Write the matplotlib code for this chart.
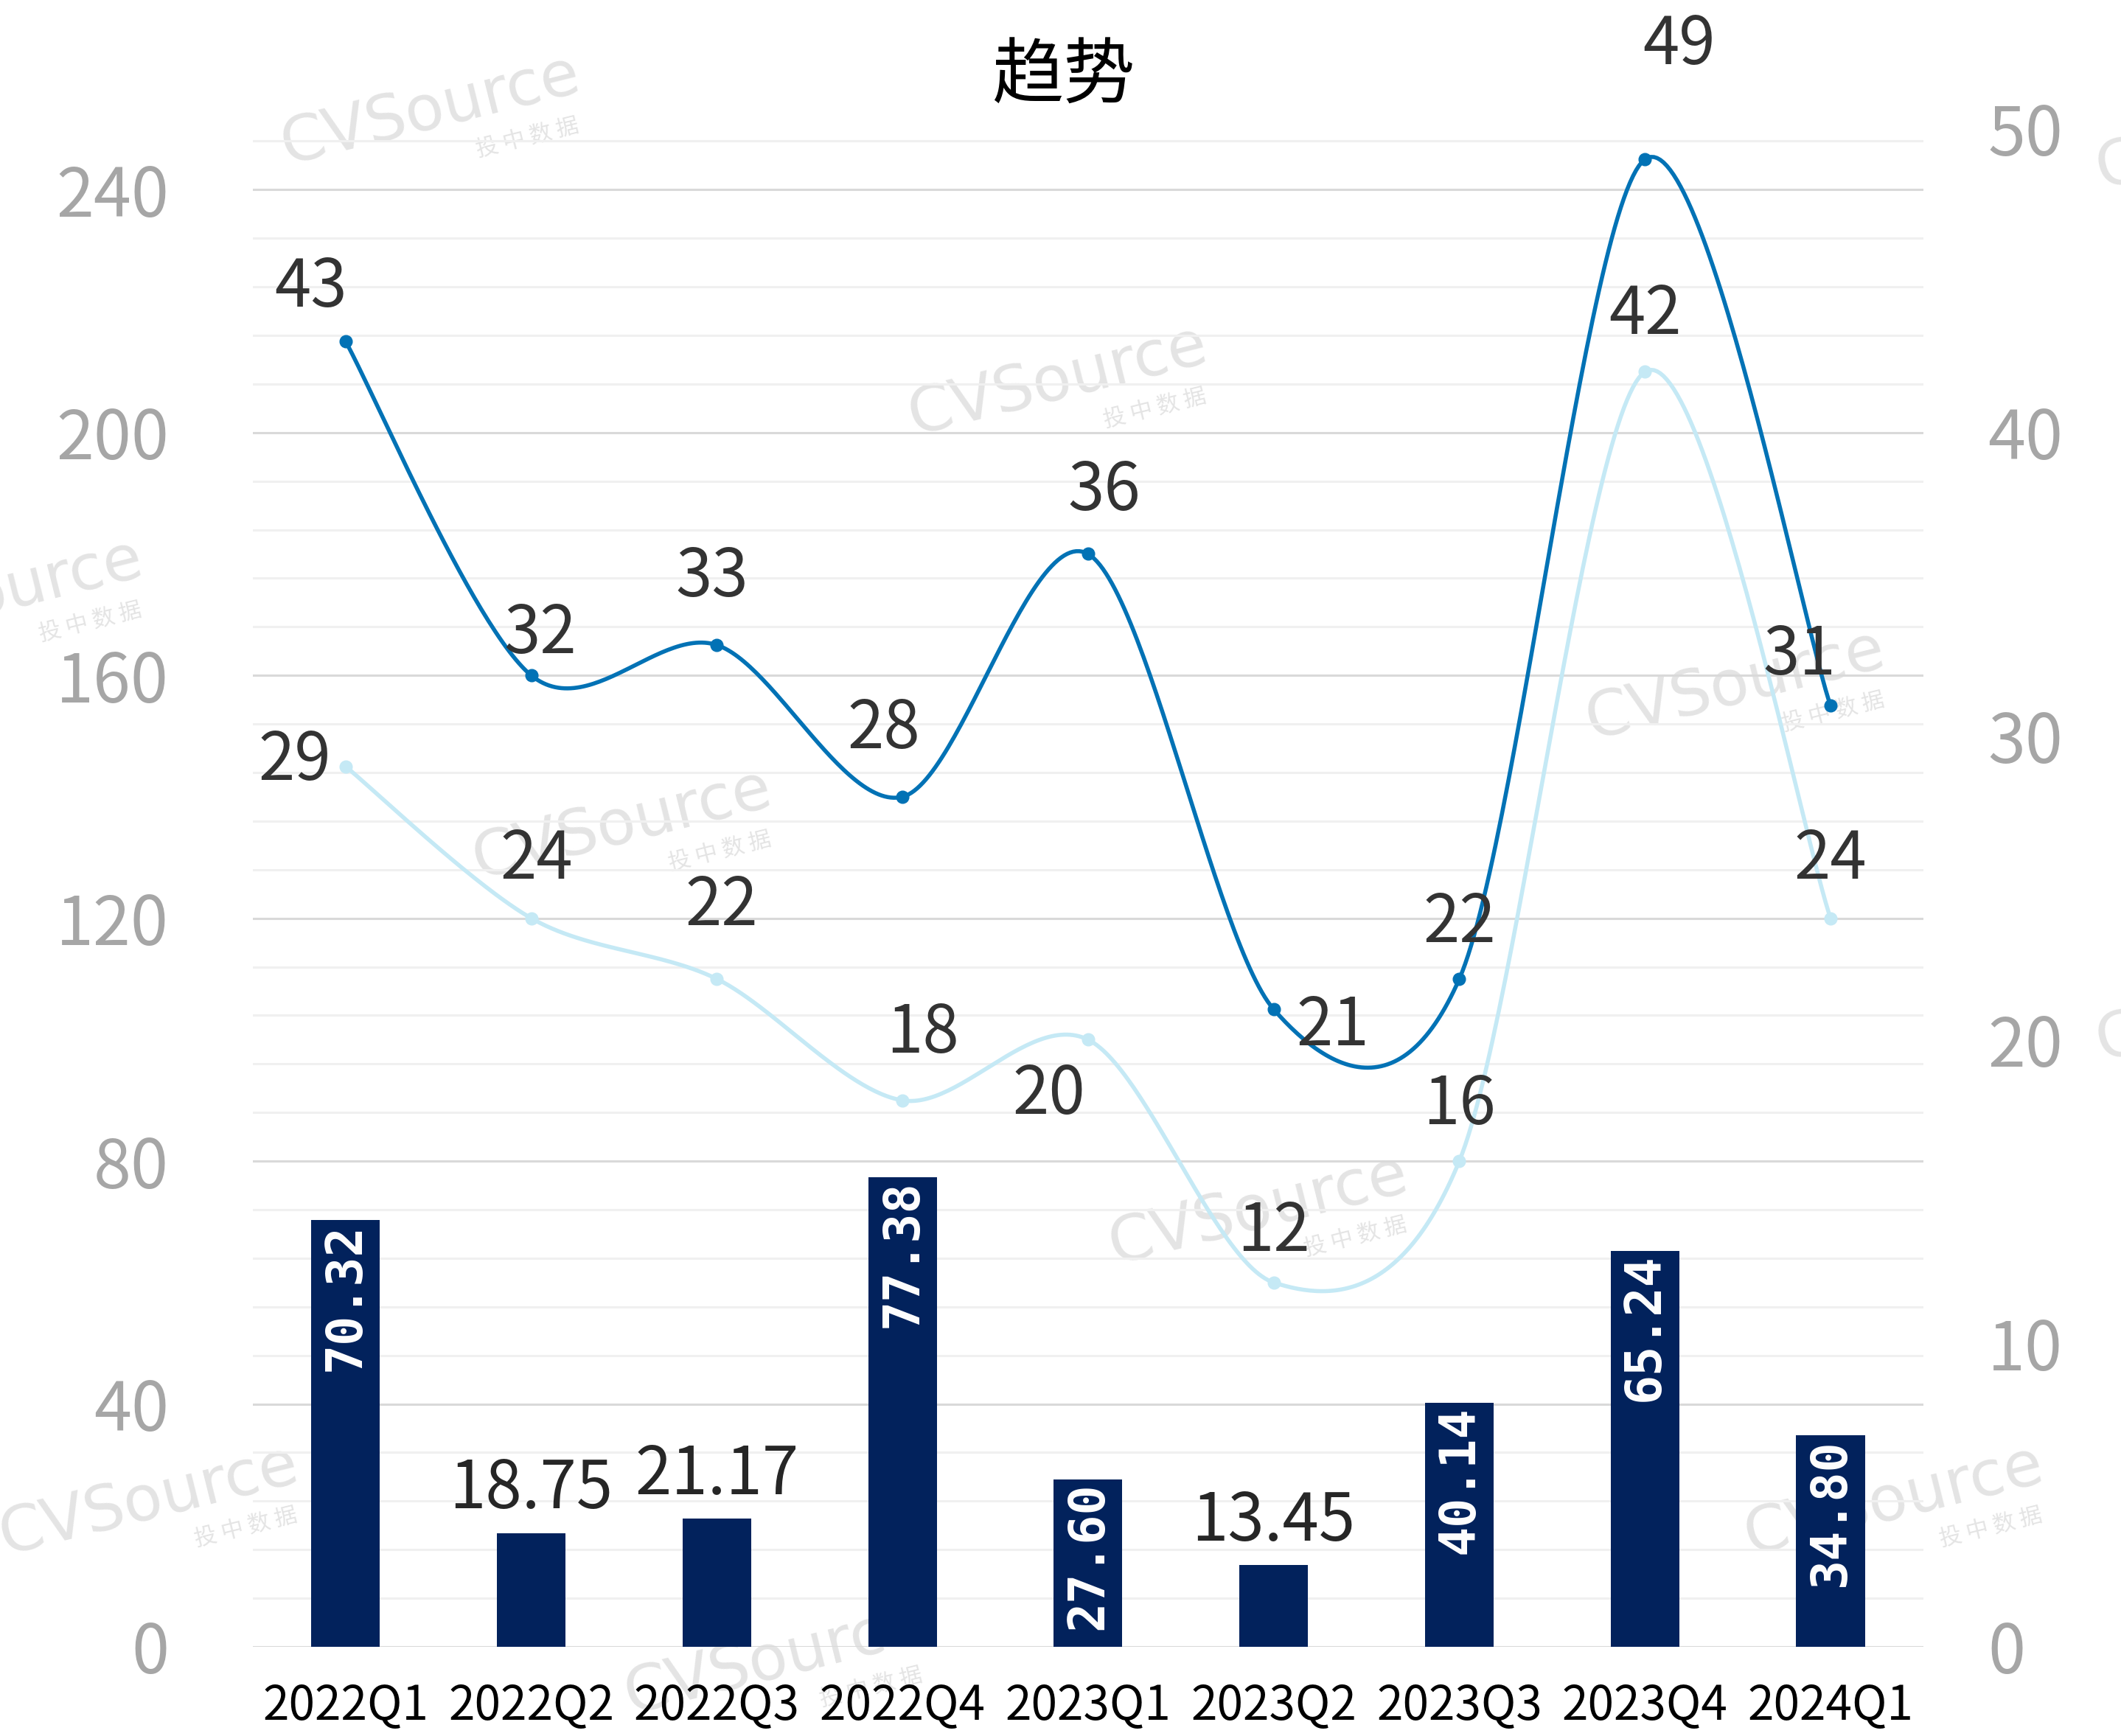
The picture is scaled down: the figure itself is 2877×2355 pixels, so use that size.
import numpy as np
import matplotlib.pyplot as plt
from matplotlib.ticker import MultipleLocator

plt.rcParams['font.family'] = ['Noto Sans CJK SC', 'DejaVu Sans']

# 数据
quarters = ['2022Q1', '2022Q2', '2022Q3', '2022Q4', '2023Q1', '2023Q2', '2023Q3', '2023Q4', '2024Q1']
amount = [70.32, 18.75, 21.17, 77.38, 27.60, 13.45, 40.14, 65.24, 34.80]
count_dark = [43, 32, 33, 28, 36, 21, 22, 49, 31]
count_light = [29, 24, 22, 18, 20, 12, 16, 42, 24]

# 标签偏移 (points)
off_dark = [(-34, 52), (9, 40), (-5, 66), (-18, 66), (16, 61), (58, -17), (0, 54), (33, 111), (-30, 49)]
off_light = [(-50, 5), (5, 57), (5, 71), (20, 65), (-38, -54), (0, 49), (0, 54), (0, 55), (0, 57)]

BAR = '#02225C'
DARK = '#0272B5'
LIGHT = '#C5E9F5'


def smooth(x, y, k=6.5, n=60):
    # Excel 风格平滑曲线 (Catmull-Rom -> Bezier)
    p = np.column_stack([x, y]).astype(float)
    out = []
    for i in range(len(p) - 1):
        p0 = p[max(i - 1, 0)]
        p1, p2 = p[i], p[i + 1]
        p3 = p[min(i + 2, len(p) - 1)]
        c1 = p1 + (p2 - p0) / k
        c2 = p2 - (p3 - p1) / k
        t = np.linspace(0, 1, n)[:, None]
        seg = (1 - t) ** 3 * p1 + 3 * (1 - t) ** 2 * t * c1 + 3 * (1 - t) * t ** 2 * c2 + t ** 3 * p2
        out.append(seg if i == 0 else seg[1:])
    s = np.vstack(out)
    return s[:, 0], s[:, 1]


fig = plt.figure(figsize=(28.77, 23.55), dpi=100)
ax = fig.add_axes([0.1192, 0.0514, 0.7876, 0.8743])
ax.set_facecolor('none')
ax2 = ax.twinx()

x = np.arange(len(quarters))

# 水印
marks = [(318, 82), (782, 282), (-5, 440), (460, 610), (930, 895), (1283, 507),
         (110, 1110), (572, 1228), (1400, 1110), (1660, 100), (1660, 745)]
for mx, my in marks:
    fig.text(mx / 1568, 1 - my / 1284, 'CVSource', fontsize=62, color='#E4E4E4',
             family='DejaVu Sans', rotation=14, ha='center', va='center', zorder=-5)
    fig.text((mx + 72) / 1568, 1 - (my + 20) / 1284, '投 中 数 据', fontsize=22, color='#E4E4E4',
             rotation=14, ha='center', va='center', zorder=-5)

# 柱状图
ax.bar(x, amount, width=0.37, color=BAR, zorder=3)
for xi, v in zip(x, amount):
    if v > 25:
        ax.annotate(f'{v:.2f}', (xi, v), xytext=(0, -3), textcoords='offset points',
                    rotation=90, ha='center', va='top', color='white', fontsize=48,
                    family='DejaVu Sans Mono', fontweight='bold', zorder=4)
    else:
        ax.annotate(f'{v:.2f}', (xi, v), xytext=(0, 42), textcoords='offset points',
                    ha='center', va='center', color='#262626', fontsize=64, zorder=4)

ax.set_ylim(0, 250)
ax.set_xlim(-0.5, len(quarters) - 0.5)
ax.yaxis.set_minor_locator(MultipleLocator(8))
ax.grid(which='major', axis='y', color='#D9D9D9', lw=2.2, zorder=0)
ax.grid(which='minor', axis='y', color='#F0F0F0', lw=2.2, zorder=0)
ax.set_axisbelow(True)
ax.set_yticks(np.arange(0, 241, 40))
ax.tick_params(axis='y', which='both', length=0, pad=82, labelsize=66, labelcolor='#A6A6A6')
ax.set_xticks(x)
ax.set_xticklabels(quarters)
ax.tick_params(axis='x', length=0, pad=34, labelsize=46, labelcolor='black')

# 折线
for vals, col, offs in [(count_dark, DARK, off_dark), (count_light, LIGHT, off_light)]:
    sx, sy = smooth(x, vals)
    ax2.plot(sx, sy, color=col, lw=4, zorder=3, solid_capstyle='round')
    ax2.plot(x, vals, 'o', color=col, ms=12, zorder=4)
    for xi, v, (dx, dy) in zip(x, vals, offs):
        ax2.annotate(str(v), (xi, v), xytext=(dx, dy), textcoords='offset points',
                     ha='center', va='center', color='#333333', fontsize=64, zorder=5)

ax2.set_ylim(0, 50)
ax2.set_yticks(np.arange(0, 51, 10))
ax2.tick_params(axis='y', length=0, pad=63, labelsize=66, labelcolor='#A6A6A6')

for a in (ax, ax2):
    for s in a.spines.values():
        s.set_visible(False)

fig.text(1442 / 2877, 1 - 105 / 2355, '趋势', fontsize=70,
         ha='center', va='center', color='black')

fig.savefig('out.png', dpi=100)
